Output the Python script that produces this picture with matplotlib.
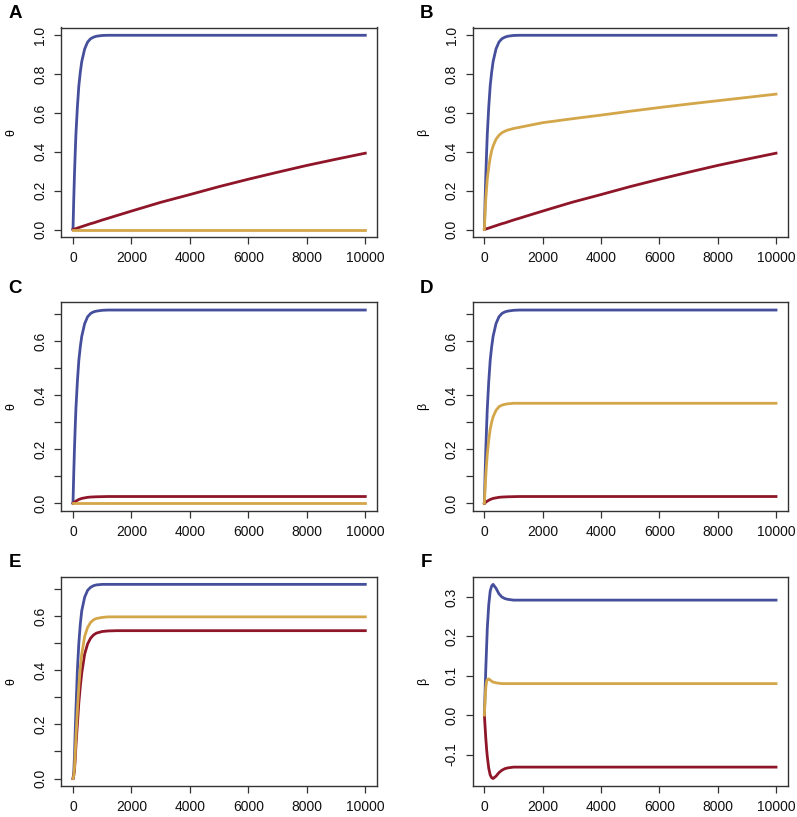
import matplotlib
matplotlib.use('Agg')
import matplotlib.pyplot as plt
import numpy as np

plt.rcParams['font.family'] = ['Liberation Sans', 'DejaVu Sans']
plt.rcParams['axes.unicode_minus'] = False

# time points (shared by every curve)
t = [0, 25, 50, 75, 100, 150, 200, 250, 300, 400, 500, 600, 700, 800,
     1000, 1200, 1500, 2000, 3000, 4000, 5000, 6000, 7000, 8000, 9000, 10000]

# panel A / B
blue_ab = [0, 0.15, 0.28, 0.39, 0.49, 0.63, 0.74, 0.81, 0.865, 0.93, 0.965,
           0.982, 0.99, 0.995, 0.999, 1, 1, 1, 1, 1, 1, 1, 1, 1, 1, 1]
red_ab = [0, 0.001, 0.0025, 0.004, 0.005, 0.0075, 0.01, 0.0125, 0.015, 0.02,
          0.025, 0.03, 0.034, 0.039, 0.049, 0.058, 0.072, 0.095, 0.14, 0.18,
          0.221, 0.259, 0.295, 0.33, 0.362, 0.393]
gold_a = [0] * 26
gold_b = [0, 0.09, 0.16, 0.21, 0.26, 0.32, 0.37, 0.405, 0.43, 0.465, 0.485,
          0.498, 0.506, 0.512, 0.52, 0.526, 0.535, 0.55, 0.57, 0.589, 0.609,
          0.628, 0.646, 0.663, 0.68, 0.697]

# panel C / D
blue_cd = [0, 0.107, 0.2, 0.279, 0.35, 0.45, 0.529, 0.579, 0.618, 0.665,
           0.69, 0.702, 0.708, 0.711, 0.714, 0.715, 0.715, 0.715, 0.715,
           0.715, 0.715, 0.715, 0.715, 0.715, 0.715, 0.715]
red_cd = [0, 0.002, 0.004, 0.006, 0.008, 0.011, 0.014, 0.016, 0.018, 0.02,
          0.022, 0.023, 0.0235, 0.024, 0.0245, 0.025, 0.025, 0.025, 0.025,
          0.025, 0.025, 0.025, 0.025, 0.025, 0.025, 0.025]
gold_c = [0] * 26
gold_d = [0, 0.056, 0.104, 0.144, 0.181, 0.233, 0.274, 0.3, 0.32, 0.344,
          0.357, 0.363, 0.366, 0.368, 0.37, 0.37, 0.37, 0.37, 0.37, 0.37,
          0.37, 0.37, 0.37, 0.37, 0.37, 0.37]

# panel E
blue_e = [0, 0.02, 0.08, 0.17, 0.25, 0.4, 0.5, 0.57, 0.62, 0.67, 0.695,
          0.706, 0.712, 0.715, 0.717, 0.717, 0.717, 0.717, 0.717, 0.717,
          0.717, 0.717, 0.717, 0.717, 0.717, 0.717]
gold_e = [0, 0.01, 0.04, 0.09, 0.15, 0.25, 0.34, 0.41, 0.46, 0.525, 0.558,
          0.576, 0.586, 0.591, 0.595, 0.597, 0.597, 0.597, 0.597, 0.597,
          0.597, 0.597, 0.597, 0.597, 0.597, 0.597]
red_e = [0, 0.01, 0.03, 0.07, 0.12, 0.2, 0.28, 0.34, 0.39, 0.46, 0.497,
         0.518, 0.53, 0.537, 0.543, 0.545, 0.546, 0.546, 0.546, 0.546,
         0.546, 0.546, 0.546, 0.546, 0.546, 0.546]

# panel F
blue_f = [0, 0.06, 0.12, 0.17, 0.22, 0.28, 0.315, 0.328, 0.332, 0.322,
          0.308, 0.3, 0.296, 0.294, 0.292, 0.292, 0.292, 0.292, 0.292,
          0.292, 0.292, 0.292, 0.292, 0.292, 0.292, 0.292]
gold_f = [0, 0.04, 0.07, 0.085, 0.09, 0.092, 0.089, 0.086, 0.084, 0.082,
          0.081, 0.08, 0.08, 0.08, 0.08, 0.08, 0.08, 0.08, 0.08, 0.08, 0.08,
          0.08, 0.08, 0.08, 0.08, 0.08]
red_f = [0, -0.03, -0.06, -0.085, -0.105, -0.135, -0.152, -0.159, -0.161,
         -0.155, -0.146, -0.14, -0.136, -0.134, -0.132, -0.132, -0.132,
         -0.132, -0.132, -0.132, -0.132, -0.132, -0.132, -0.132, -0.132,
         -0.132]

panels = [
    ('A', 'θ', blue_ab, red_ab, gold_a),
    ('B', 'β', blue_ab, red_ab, gold_b),
    ('C', 'θ', blue_cd, red_cd, gold_c),
    ('D', 'β', blue_cd, red_cd, gold_d),
    ('E', 'θ', blue_e, red_e, gold_e),
    ('F', 'β', blue_f, red_f, gold_f),
]

C_BLUE = '#454f9c'
C_RED = '#8f1628'
C_GOLD = '#d4a64a'
FRAME = '#333333'

W, H = 797, 817
fig = plt.figure(figsize=(W / 100, H / 100), dpi=100)

# axes boxes in pixels: (left, top, right, bottom)
col_x = [(61.3, 377.0), (472.7, 787.7)]
row_y = [(27.5, 237.3), (302.3, 511.0), (576.6, 786.3)]

for i, (letter, ylab, blue, red, gold) in enumerate(panels):
    r, c = divmod(i, 2)
    x0, x1 = col_x[c]
    y0, y1 = row_y[r]
    ax = fig.add_axes([x0 / W, 1 - y1 / H, (x1 - x0) / W, (y1 - y0) / H])

    ax.plot(t, blue, color=C_BLUE, lw=2)
    ax.plot(t, red, color=C_RED, lw=2)
    ax.plot(t, gold, color=C_GOLD, lw=2)
    ax.margins(0.04)

    ax.set_xticks([0, 2000, 4000, 6000, 8000, 10000])
    if letter in ('A', 'B'):
        yt = np.round(np.arange(0, 1.01, 0.2), 1)
        ylabels = [f'{v:.1f}' for v in yt]
    elif letter == 'F':
        yt = np.round(np.arange(-0.1, 0.31, 0.1), 1)
        ylabels = [f'{v:.1f}' for v in yt]
    else:
        yt = np.round(np.arange(0, 0.71, 0.1), 1)
        ylabels = [f'{v:.1f}' if k % 2 == 0 else '' for k, v in enumerate(yt)]
    ax.set_yticks(yt)
    ax.set_yticklabels(ylabels)

    ax.tick_params(axis='both', direction='out', length=5, width=0.9,
                   color=FRAME, labelsize=10, pad=5, labelcolor='#111111')
    ax.tick_params(axis='y', labelrotation=90)
    for lab in ax.get_yticklabels():
        lab.set_va('center')
    for sp in ax.spines.values():
        sp.set_color(FRAME)
        sp.set_linewidth(1.0)

    ax.set_ylabel(ylab, fontsize=9)
    ax.yaxis.set_label_coords(-44 / (x1 - x0), 0.5)

    fig.text((x0 - 46) / W, 1 - (y0 - 9.5) / H, letter, fontsize=13.5,
             fontweight='bold', ha='center', va='baseline')

fig.savefig('out.png', dpi=100, facecolor='white')
